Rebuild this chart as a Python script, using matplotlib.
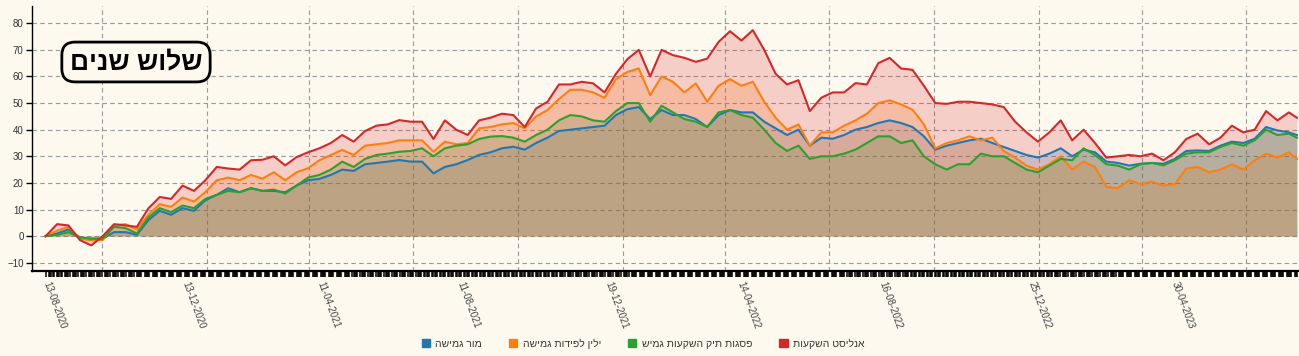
import pandas as pd
import matplotlib
matplotlib.use("Agg")
import matplotlib.pyplot as plt
import matplotlib.dates as mdates
from matplotlib.patches import Patch
from matplotlib.ticker import FixedLocator

# sample dates (every 10 days) plus the last day of the period
dates = pd.date_range("2020-08-13", periods=110, freq="10D").append(pd.DatetimeIndex(["2023-08-15"]))

# yield in %
mor = [0, 1, 2.5, -0.5, -1.5, -1, 1.5, 1.5, 0.5,
       6, 9.5, 8, 10.5, 9.5, 13.5, 15.5, 18, 16.5, 18, 17, 17, 16.5, 19, 21,
       21.5, 23, 25, 24.5, 27, 27.5, 28, 28.6, 28, 28, 23.6, 26, 27, 28.6, 30.5, 31.5, 33, 33.6, 32.5, 35, 37, 39.5,
       40, 40.5, 41, 41.5, 45.5, 47.7, 48.5, 44, 47.4, 45.5, 45.5, 44, 41, 45.5, 47.4, 46.5, 46.5, 43, 40.5, 38, 40, 34, 37,
       36.6, 38, 40, 41, 42.5, 43.5, 42.5, 41, 37.5, 32.5, 34, 35, 36, 36.6, 35, 33.5, 32, 30.5, 29.5, 31, 33,
       30, 32.5, 31.5, 28, 27.5, 26.5, 27.2, 27.5, 27.2, 29, 32, 32.2, 32, 34, 35.5, 35, 36.6, 41, 39.7, 39, 38]
yalin = [0, 2, 3.5, -1, -1.5, -1.5, 4, 4.5, 2.5,
         8, 12, 11, 14.5, 13, 16.5, 21, 22, 21, 23, 21.6, 24, 21, 24, 25.5,
         28.5, 30.5, 32.4, 30.5, 34, 34.5, 35, 36, 36, 36, 31.7, 35.5, 34.5, 35, 40.5, 41, 42, 42.5, 40.5, 45, 47.4, 51.5,
         55, 55, 54, 52, 59, 61.7, 63, 53, 60, 58, 54, 57.4, 50.5, 56.5, 59, 56.5, 58, 50.5, 44.5, 40, 42, 34, 39,
         39, 41.5, 43.5, 46, 50, 51, 49.5, 47.5, 42, 33, 35, 36, 37.5, 36, 37, 32, 29.5, 26.5, 25, 27, 30,
         25, 28, 26, 18.5, 18, 21, 19.5, 20.5, 19, 19.5, 25.4, 26, 24, 25, 27, 25, 28.5, 31, 29.5, 31.5, 29]
psagot = [0, 0.5, 1.5, -0.5, -1, -1, 3.5, 3, 1,
          7, 10.5, 9, 11.5, 10.5, 14, 15.5, 17, 16.5, 18, 17, 17.5, 16, 19, 22,
          23, 25, 28, 26, 29, 30.5, 31, 31.7, 32, 33, 30, 33, 34, 34.5, 36.5, 37.4, 37.6, 37, 35.5, 38, 40, 43.5,
          45.5, 45, 43.5, 43, 47, 50, 50, 43, 49, 46.5, 44, 43, 41, 46.5, 47.4, 45.5, 44.5, 40, 35, 32, 34, 29, 30,
          30, 31, 32.5, 35, 37.5, 37.5, 35, 36, 30, 27, 25, 27, 27, 31, 30, 30, 27.5, 25, 24, 26.5, 29,
          28.5, 33, 30.5, 27, 26.5, 25, 27, 27.5, 26.6, 28.5, 31, 31.5, 31.5, 33.5, 35, 34, 36, 40, 38, 38.5, 37]
analyst = [0, 4.5, 4, -1.5, -3.5, 0, 4.5, 4, 3.5,
           10.4, 14.7, 14, 19, 17, 21, 26, 25.4, 25, 28.5, 28.7, 30, 26.6, 29.7, 31.5,
           33, 35, 38, 35.5, 39.5, 41.5, 42, 43.6, 43, 43, 36.5, 43.5, 40, 38, 43.5, 44.5, 46, 45.5, 41, 48, 50.5, 57,
           57, 58, 57.4, 54, 61, 66.5, 70, 60, 70, 68, 67, 65.5, 66.7, 73, 77, 73.5, 77.4, 70, 61, 57, 58.6, 47, 52,
           54, 54, 57.5, 57, 65, 67, 63, 62.5, 56.5, 50, 49.7, 50.5, 50.5, 50, 49.5, 48.5, 43, 39, 35.5, 39, 43.5,
           36, 40, 35, 29.5, 30, 30.5, 30, 31, 28.5, 31.5, 36.5, 38.5, 34.5, 37, 41.5, 39, 40, 47, 43.5, 46.5, 44.5]

names = ["מור גמישה", "ילין לפידות גמישה", "פסגות תיק השקעות גמיש", "אנליסט השקעות"]
series = [mor, yalin, psagot, analyst]
colors = ["#1f77b4", "#ff7f0e", "#2ca02c", "#d62728"]

label_dates = pd.to_datetime(["2020-08-13", "2020-12-13", "2021-04-11", "2021-08-11", "2021-12-19",
                              "2022-04-14", "2022-08-16", "2022-12-25", "2023-04-30"])
title = "שלוש שנים"

bg = "#fdf9ef"
fonts = ["Liberation Sans", "DejaVu Sans"]


def rtl(s):
    # matplotlib has no bidi support, so flip the Hebrew for display
    return s[::-1]


fig = plt.figure(figsize=(12.99, 3.56), dpi=100, facecolor=bg)
ax = fig.add_axes([32 / 1299, 1 - 270.7 / 356, 1266 / 1299, 265 / 356])
ax.set_facecolor(bg)

for vals, c in zip(series, colors):
    ax.fill_between(dates, 0, vals, color=c, alpha=0.2, lw=0)
    ax.plot(dates, vals, color=c, lw=1.5)

ax.set_xlim(pd.Timestamp("2020-08-01"), pd.Timestamp("2023-08-16"))
ax.set_ylim(-13, 86.6)
ax.set_yticks(range(-10, 81, 10))

# quarterly vertical grid, horizontal grid on the y ticks
for q in pd.date_range("2020-10-01", "2023-07-01", freq="QS"):
    ax.axvline(q, color="#999999", lw=0.8, ls=(0, (4, 3)), zorder=0)
ax.yaxis.grid(True, color="#999999", lw=0.8, ls=(0, (4, 3)))
ax.set_axisbelow(True)

# one small tick per trading day (Sun-Thu), labels only on a few dates
trading_days = pd.bdate_range("2020-08-13", "2023-08-15", freq="C", weekmask="Sun Mon Tue Wed Thu")
ax.xaxis.set_major_locator(FixedLocator(mdates.date2num(label_dates)))
ax.xaxis.set_minor_locator(FixedLocator(mdates.date2num(trading_days)))
ax.set_xticklabels([d.strftime("%d-%m-%Y") for d in label_dates], rotation=-70,
                   ha="left", va="center", rotation_mode="anchor", fontsize=7,
                   color="#444444", family=fonts)
ax.tick_params(axis="x", which="both", length=4, width=1.1, color="black", pad=4)
ax.tick_params(axis="y", length=4, width=1, color="black", labelsize=7, labelcolor="#333333", pad=2)
for lbl in ax.get_yticklabels():
    lbl.set_family(fonts)

for side in ["top", "right"]:
    ax.spines[side].set_visible(False)
ax.spines["left"].set_linewidth(1)
ax.spines["bottom"].set_linewidth(1.6)

fig.text(136 / 1299, 1 - 62 / 356, rtl(title), fontsize=19, fontweight="bold", family=fonts,
         ha="center", va="center",
         bbox=dict(boxstyle="round,pad=0.3,rounding_size=0.5", fc=bg, ec="black", lw=2))

handles = [Patch(facecolor=c, edgecolor=c) for c in colors]
fig.legend(handles, [rtl(n) for n in names], loc="center", bbox_to_anchor=(0.495, 0.034),
           ncol=4, frameon=False, prop={"family": fonts, "size": 7.5},
           handlelength=0.8, handleheight=0.8, handletextpad=0.5, columnspacing=2.6,
           labelcolor="#333333")

fig.savefig("out.png", dpi=100, facecolor=bg)
